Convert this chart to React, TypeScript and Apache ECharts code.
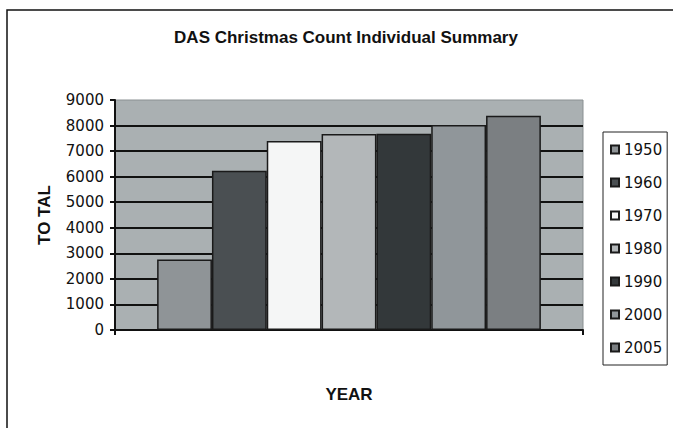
import React, { useEffect, useRef } from "react";
import * as echarts from "echarts";

const titleText = "DAS Christmas Count Individual Summary";
const years = ["1950", "1960", "1970", "1980", "1990", "2000", "2005"];
const totals = [2760, 6230, 7400, 7670, 7680, 8020, 8380];
const barColors = ["#8f9497", "#4a4f52", "#f5f6f6", "#b3b7b9", "#33383a", "#90969a", "#7b7f82"];
const categories = [""];
const yTicks = { min: 0, max: 9000, interval: 1000 };

export default function App() {
  const ref = useRef<HTMLDivElement>(null);
  useEffect(() => {
    document.body.style.margin = "0";
    if (!ref.current) return;
    const chart = echarts.init(ref.current, null, { renderer: "svg" });
    const font = "DejaVu Sans";
    const bold = "Liberation Sans";
    chart.setOption({
      animation: false,
      backgroundColor: "#ffffff",
      title: {
        text: titleText,
        left: 341,
        textAlign: "center",
        top: 24,
        textStyle: { fontFamily: bold, fontSize: 17, fontWeight: "bold", color: "#111" },
      },
      graphic: [
        {
          type: "rect",
          shape: { x: 7, y: 10, width: 700, height: 460 },
          style: { fill: "none", stroke: "#111", lineWidth: 1.5 },
          silent: true,
        },
      ],
      legend: {
        orient: "vertical",
        left: 603,
        top: 132,
        itemWidth: 8,
        itemHeight: 8,
        itemGap: 18,
        padding: [10, 5, 10, 7],
        borderColor: "#222",
        borderWidth: 1,
        backgroundColor: "#fff",
        icon: "rect",
        textStyle: { fontFamily: font, fontSize: 15, color: "#111" },
        data: years,
      },
      grid: {
        left: 115,
        top: 100,
        right: 90,
        bottom: 98,
        show: true,
        backgroundColor: "#aab0b2",
        borderColor: "#8a9092",
        borderWidth: 1,
      },
      xAxis: {
        type: "category",
        data: categories,
        name: "YEAR",
        nameLocation: "middle",
        nameGap: 56,
        nameTextStyle: { fontFamily: bold, fontSize: 17, fontWeight: "bold", color: "#111" },
        axisLine: { lineStyle: { color: "#111", width: 2 } },
        axisTick: { show: true, length: 5, lineStyle: { color: "#111", width: 2 } },
        axisLabel: { show: false },
      },
      yAxis: {
        type: "value",
        min: yTicks.min,
        max: yTicks.max,
        interval: yTicks.interval,
        name: "TO TAL",
        nameLocation: "middle",
        nameGap: 62,
        nameRotate: 90,
        nameTextStyle: { fontFamily: bold, fontSize: 17, fontWeight: "bold", color: "#111" },
        axisLine: { show: true, lineStyle: { color: "#111", width: 2 } },
        axisTick: { show: true, length: 5, lineStyle: { color: "#111", width: 2 } },
        axisLabel: {
          fontFamily: font,
          fontSize: 15,
          color: "#111",
          margin: 11,
          formatter: (v: number) => String(v),
        },
        splitLine: {
          show: true,
          showMaxLine: false,
          showMinLine: false,
          lineStyle: { color: "#111", width: 2 },
        },
      },
      series: years.map((y, i) => ({
        type: "bar",
        name: y,
        data: [totals[i]],
        barGap: "0%",
        barCategoryGap: "18%",
        itemStyle: { color: barColors[i], borderColor: "#1a1a1a", borderWidth: 1.5 },
      })),
    });
    return () => chart.dispose();
  }, []);
  return <div ref={ref} style={{ width: 673, height: 428 }} />;
}
